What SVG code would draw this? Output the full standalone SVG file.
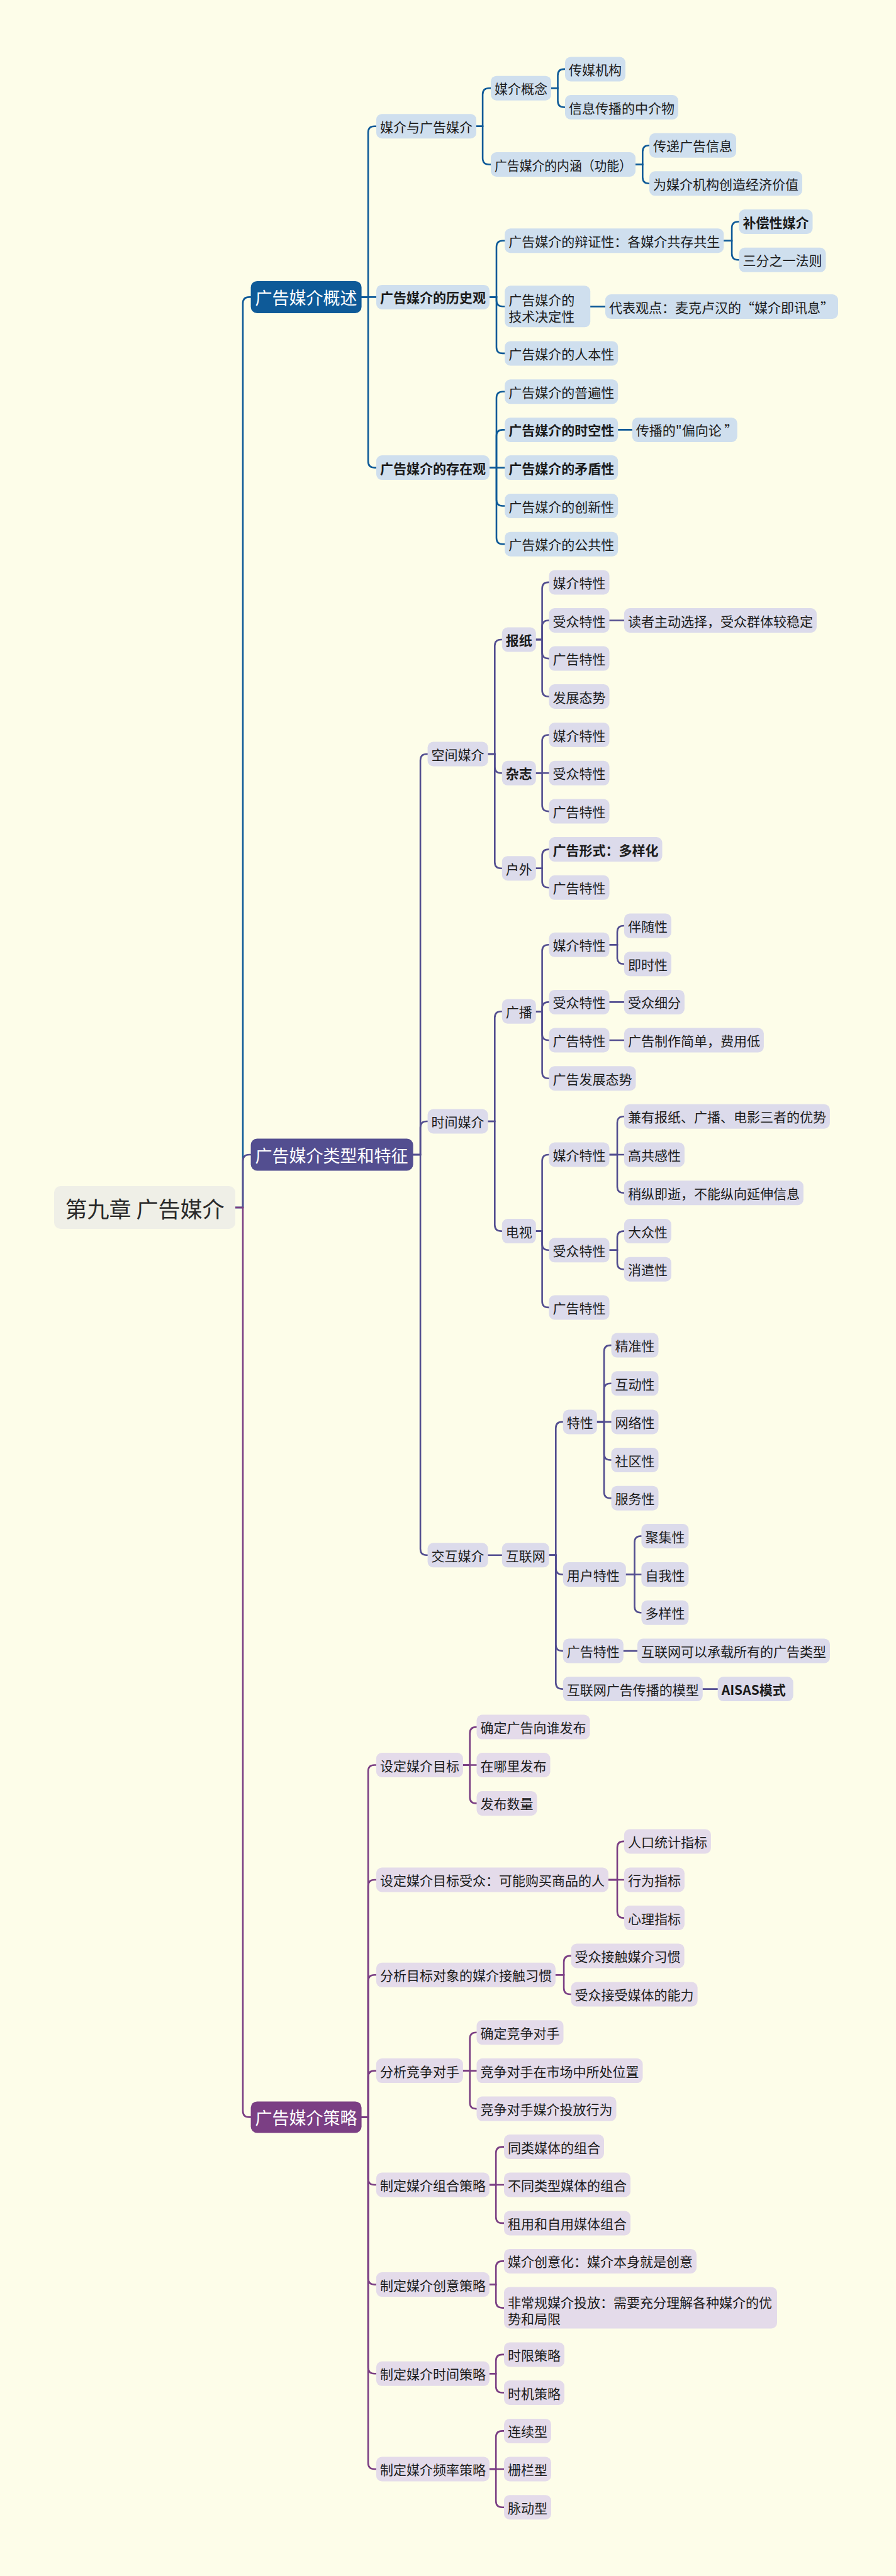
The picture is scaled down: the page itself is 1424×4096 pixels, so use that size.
<svg xmlns="http://www.w3.org/2000/svg" width="1424" height="4096" viewBox="0 0 1424 4096">
<style>
.t{font-family:"Noto Sans CJK SC","Noto Sans",sans-serif;font-size:21px;fill:#1b1b1b;dominant-baseline:central}
.bd{font-weight:bold}
.l1{font-size:27px;fill:#ffffff}
.rt{font-size:35px;fill:#2a2a2a;text-anchor:middle}
.nb{fill:#cfdfee}
.np{fill:#dcdbeb}
.nm{fill:#e4dbea}
.c{fill:none;stroke-width:2.6;stroke-linecap:round}
.cb{stroke:#0e5a98}
.cp{stroke:#534e90}
.cm{stroke:#7b3f84}
</style>
<rect x="0" y="0" width="1424" height="4096" fill="#fdfde9"/>
<g id="connectors">
<path class="c cb" d="M374,1920 H386 V482.4 Q386,472.4 396,472.4 H398.6"/>
<path class="c cp" d="M374,1920 H386 V1846 Q386,1836 396,1836 H398.6"/>
<path class="c cm" d="M374,1920 H386 V3356.4 Q386,3366.4 396,3366.4 H398.6"/>
<path class="c cb" d="M574.6,472.4 H585.1 V210.7 Q585.1,200.7 595.1,200.7 H598"/>
<path class="c cb" d="M574.6,472.4 H598"/>
<path class="c cb" d="M574.6,472.4 H585.1 V733.6 Q585.1,743.6 595.1,743.6 H598"/>
<path class="c cb" d="M757,200.7 H767.1 V150.2 Q767.1,140.2 777.1,140.2 H780"/>
<path class="c cb" d="M757,200.7 H767.1 V251.5 Q767.1,261.5 777.1,261.5 H780"/>
<path class="c cb" d="M876,140.2 H886.5 V119.9 Q886.5,109.9 896.5,109.9 H898"/>
<path class="c cb" d="M876,140.2 H886.5 V160.5 Q886.5,170.5 896.5,170.5 H898"/>
<path class="c cb" d="M1010,261.5 H1021.3 V241.2 Q1021.3,231.2 1031.3,231.2 H1032"/>
<path class="c cb" d="M1010,261.5 H1021.3 V281.8 Q1021.3,291.8 1031.3,291.8 H1032"/>
<path class="c cb" d="M778,472.4 H789 V392.7 Q789,382.7 799,382.7 H802.2"/>
<path class="c cb" d="M778,472.4 H789 V477.3 Q789,487.3 799,487.3 H802.2"/>
<path class="c cb" d="M778,472.4 H789 V551.9 Q789,561.9 799,561.9 H802.2"/>
<path class="c cb" d="M1150.2,382.7 H1163.1 V362.5 Q1163.1,352.5 1173.1,352.5 H1174.5"/>
<path class="c cb" d="M1150.2,382.7 H1163.1 V403.3 Q1163.1,413.3 1173.1,413.3 H1174.5"/>
<path class="c cb" d="M938.2,487.4 H962"/>
<path class="c cb" d="M778,743.6 H789 V632.8 Q789,622.8 799,622.8 H802.2"/>
<path class="c cb" d="M778,743.6 H789 V693.4 Q789,683.4 799,683.4 H802.2"/>
<path class="c cb" d="M778,743.6 H802.2"/>
<path class="c cb" d="M778,743.6 H789 V794.5 Q789,804.5 799,804.5 H802.2"/>
<path class="c cb" d="M778,743.6 H789 V855.2 Q789,865.2 799,865.2 H802.2"/>
<path class="c cb" d="M982.2,683.4 H1004.7"/>

<path class="c cp" d="M656.6,1836 H668.1 V1209 Q668.1,1199 678.1,1199 H679.6"/>
<path class="c cp" d="M656.6,1836 H668.1 V1793 Q668.1,1783 678.1,1783 H679.6"/>
<path class="c cp" d="M656.6,1836 H668.1 V2462.8 Q668.1,2472.8 678.1,2472.8 H679.6"/>
<path class="c cp" d="M775.6,1199 H786.3 V1027 Q786.3,1017 796.3,1017 H797.8"/>
<path class="c cp" d="M775.6,1199 H786.3 V1219.3 Q786.3,1229.3 796.3,1229.3 H797.8"/>
<path class="c cp" d="M775.6,1199 H786.3 V1370.7 Q786.3,1380.7 796.3,1380.7 H797.8"/>
<path class="c cp" d="M851.8,1017 H861.6 V935.9 Q861.6,925.9 871.6,925.9 H872.5"/>
<path class="c cp" d="M851.8,1017 H861.6 V996.5 Q861.6,986.5 871.6,986.5 H872.5"/>
<path class="c cp" d="M851.8,1017 H861.6 V1037.1 Q861.6,1047.1 871.6,1047.1 H872.5"/>
<path class="c cp" d="M851.8,1017 H861.6 V1097.5 Q861.6,1107.5 871.6,1107.5 H872.5"/>
<path class="c cp" d="M968.5,986.5 H991.9"/>
<path class="c cp" d="M851.8,1229.3 H861.6 V1178.5 Q861.6,1168.5 871.6,1168.5 H872.5"/>
<path class="c cp" d="M851.8,1229.3 H872.5"/>
<path class="c cp" d="M851.8,1229.3 H861.6 V1280.1 Q861.6,1290.1 871.6,1290.1 H872.5"/>
<path class="c cp" d="M851.8,1380.7 H861.6 V1360.6 Q861.6,1350.6 871.6,1350.6 H872.5"/>
<path class="c cp" d="M851.8,1380.7 H861.6 V1401.3 Q861.6,1411.3 871.6,1411.3 H872.5"/>
<path class="c cp" d="M775.6,1783 H786.3 V1618.2 Q786.3,1608.2 796.3,1608.2 H797.8"/>
<path class="c cp" d="M775.6,1783 H786.3 V1947.6 Q786.3,1957.6 796.3,1957.6 H797.8"/>
<path class="c cp" d="M851.8,1608.2 H861.6 V1512.3 Q861.6,1502.3 871.6,1502.3 H872.5"/>
<path class="c cp" d="M851.8,1608.2 H861.6 V1603.4 Q861.6,1593.4 871.6,1593.4 H872.5"/>
<path class="c cp" d="M851.8,1608.2 H861.6 V1644 Q861.6,1654 871.6,1654 H872.5"/>
<path class="c cp" d="M851.8,1608.2 H861.6 V1704.7 Q861.6,1714.7 871.6,1714.7 H872.5"/>
<path class="c cp" d="M968.5,1502.3 H981 V1482 Q981,1472 991,1472 H991.9"/>
<path class="c cp" d="M968.5,1502.3 H981 V1522.7 Q981,1532.7 991,1532.7 H991.9"/>
<path class="c cp" d="M968.5,1593.4 H991.9"/>
<path class="c cp" d="M968.5,1654 H991.9"/>
<path class="c cp" d="M851.8,1957.6 H861.6 V1846 Q861.6,1836 871.6,1836 H872.5"/>
<path class="c cp" d="M851.8,1957.6 H861.6 V1977.8 Q861.6,1987.8 871.6,1987.8 H872.5"/>
<path class="c cp" d="M851.8,1957.6 H861.6 V2068.9 Q861.6,2078.9 871.6,2078.9 H872.5"/>
<path class="c cp" d="M968.5,1836 H981 V1785.2 Q981,1775.2 991,1775.2 H991.9"/>
<path class="c cp" d="M968.5,1836 H991.9"/>
<path class="c cp" d="M968.5,1836 H981 V1886.7 Q981,1896.7 991,1896.7 H991.9"/>
<path class="c cp" d="M968.5,1987.8 H981 V1967.6 Q981,1957.6 991,1957.6 H991.9"/>
<path class="c cp" d="M968.5,1987.8 H981 V2008.2 Q981,2018.2 991,2018.2 H991.9"/>
<path class="c cp" d="M775.6,2472.8 H797.8"/>
<path class="c cp" d="M872.8,2472.8 H883.3 V2270.9 Q883.3,2260.9 893.3,2260.9 H894.8"/>
<path class="c cp" d="M872.8,2472.8 H883.3 V2493.5 Q883.3,2503.5 893.3,2503.5 H894.8"/>
<path class="c cp" d="M872.8,2472.8 H883.3 V2615.1 Q883.3,2625.1 893.3,2625.1 H894.8"/>
<path class="c cp" d="M872.8,2472.8 H883.3 V2675.6 Q883.3,2685.6 893.3,2685.6 H894.8"/>
<path class="c cp" d="M948.8,2260.9 H960 V2149.1 Q960,2139.1 970,2139.1 H971.5"/>
<path class="c cp" d="M948.8,2260.9 H960 V2209.8 Q960,2199.8 970,2199.8 H971.5"/>
<path class="c cp" d="M948.8,2260.9 H971.5"/>
<path class="c cp" d="M948.8,2260.9 H960 V2311.5 Q960,2321.5 970,2321.5 H971.5"/>
<path class="c cp" d="M948.8,2260.9 H960 V2372.2 Q960,2382.2 970,2382.2 H971.5"/>
<path class="c cp" d="M994.8,2503.5 H1008.5 V2452.5 Q1008.5,2442.5 1018.5,2442.5 H1019.4"/>
<path class="c cp" d="M994.8,2503.5 H1019.4"/>
<path class="c cp" d="M994.8,2503.5 H1008.5 V2554.3 Q1008.5,2564.3 1018.5,2564.3 H1019.4"/>
<path class="c cp" d="M990.8,2625.1 H1013"/>
<path class="c cp" d="M1116.8,2685.6 H1140.7"/>

<path class="c cm" d="M574.6,3366.4 H585.1 V2816.5 Q585.1,2806.5 595.1,2806.5 H597.9"/>
<path class="c cm" d="M574.6,3366.4 H585.1 V2999 Q585.1,2989 595.1,2989 H597.9"/>
<path class="c cm" d="M574.6,3366.4 H585.1 V3150.3 Q585.1,3140.3 595.1,3140.3 H597.9"/>
<path class="c cm" d="M574.6,3366.4 H585.1 V3302.6 Q585.1,3292.6 595.1,3292.6 H597.9"/>
<path class="c cm" d="M574.6,3366.4 H585.1 V3464 Q585.1,3474 595.1,3474 H597.9"/>
<path class="c cm" d="M574.6,3366.4 H585.1 V3622.6 Q585.1,3632.6 595.1,3632.6 H597.9"/>
<path class="c cm" d="M574.6,3366.4 H585.1 V3764.3 Q585.1,3774.3 595.1,3774.3 H597.9"/>
<path class="c cm" d="M574.6,3366.4 H585.1 V3916 Q585.1,3926 595.1,3926 H597.9"/>
<path class="c cm" d="M735.9,2806.5 H746.7 V2756.1 Q746.7,2746.1 756.7,2746.1 H757.5"/>
<path class="c cm" d="M735.9,2806.5 H757.5"/>
<path class="c cm" d="M735.9,2806.5 H746.7 V2857.4 Q746.7,2867.4 756.7,2867.4 H757.5"/>
<path class="c cm" d="M966.9,2989 H981 V2937.9 Q981,2927.9 991,2927.9 H991.9"/>
<path class="c cm" d="M966.9,2989 H991.9"/>
<path class="c cm" d="M966.9,2989 H981 V3039.6 Q981,3049.6 991,3049.6 H991.9"/>
<path class="c cm" d="M882.9,3140.3 H896.1 V3119.9 Q896.1,3109.9 906.1,3109.9 H907.6"/>
<path class="c cm" d="M882.9,3140.3 H896.1 V3161 Q896.1,3171 906.1,3171 H907.6"/>
<path class="c cm" d="M735.9,3292.6 H746.7 V3241.7 Q746.7,3231.7 756.7,3231.7 H757.5"/>
<path class="c cm" d="M735.9,3292.6 H757.5"/>
<path class="c cm" d="M735.9,3292.6 H746.7 V3343.1 Q746.7,3353.1 756.7,3353.1 H757.5"/>
<path class="c cm" d="M777.9,3474 H788.2 V3423.6 Q788.2,3413.6 798.2,3413.6 H801"/>
<path class="c cm" d="M777.9,3474 H801"/>
<path class="c cm" d="M777.9,3474 H788.2 V3524.9 Q788.2,3534.9 798.2,3534.9 H801"/>
<path class="c cm" d="M777.9,3632.6 H788.2 V3605.4 Q788.2,3595.4 798.2,3595.4 H801"/>
<path class="c cm" d="M777.9,3632.6 H788.2 V3659.6 Q788.2,3669.6 798.2,3669.6 H801"/>
<path class="c cm" d="M777.9,3774.3 H788.2 V3753.9 Q788.2,3743.9 798.2,3743.9 H801"/>
<path class="c cm" d="M777.9,3774.3 H788.2 V3794.5 Q788.2,3804.5 798.2,3804.5 H801"/>
<path class="c cm" d="M777.9,3926 H788.2 V3875.4 Q788.2,3865.4 798.2,3865.4 H801"/>
<path class="c cm" d="M777.9,3926 H801"/>
<path class="c cm" d="M777.9,3926 H788.2 V3976.7 Q788.2,3986.7 798.2,3986.7 H801"/>
</g>

<g id="root"><rect x="86" y="1886" width="288" height="68" rx="10" fill="#efefe7"/><text class="t rt" x="230" y="1920">第九章 广告媒介</text></g>

<g id="n-gs"><rect x="398.6" y="446.9" width="176" height="51" rx="10" fill="#0e5a98"/><text class="t l1" x="405.6" y="472.4">广告媒介概述</text></g>
<g id="n-lx"><rect x="398.6" y="1810.5" width="258" height="51" rx="10" fill="#534e90"/><text class="t l1" x="405.6" y="1836">广告媒介类型和特征</text></g>
<g id="n-cl"><rect x="398.6" y="3341.4" width="176" height="50" rx="10" fill="#7b3f84"/><text class="t l1" x="405.6" y="3366.4">广告媒介策略</text></g>

<g id="n-mj"><rect class="nb" x="598" y="181.2" width="159" height="39" rx="9"/><text class="t" x="604" y="200.7">媒介与广告媒介</text></g>
<g id="n-lsg"><rect class="nb" x="598" y="452.9" width="180" height="39" rx="9"/><text class="t bd" x="604" y="472.4">广告媒介的历史观</text></g>
<g id="n-czg"><rect class="nb" x="598" y="724.1" width="180" height="39" rx="9"/><text class="t bd" x="604" y="743.6">广告媒介的存在观</text></g>
<g id="n-mjgn"><rect class="nb" x="780" y="120.7" width="96" height="39" rx="9"/><text class="t" x="786" y="140.2">媒介概念</text></g>
<g id="n-nh"><rect class="nb" x="780" y="242" width="230" height="39" rx="9"/><text class="t" x="786" y="261.5" textLength="218" lengthAdjust="spacingAndGlyphs">广告媒介的内涵（功能）</text></g>
<g id="n-cmjg"><rect class="nb" x="898" y="90.4" width="96" height="39" rx="9"/><text class="t" x="904" y="109.9">传媒机构</text></g>
<g id="n-xxcb"><rect class="nb" x="898" y="151" width="180" height="39" rx="9"/><text class="t" x="904" y="170.5">信息传播的中介物</text></g>
<g id="n-cdgg"><rect class="nb" x="1032" y="211.7" width="138" height="39" rx="9"/><text class="t" x="1038" y="231.2">传递广告信息</text></g>
<g id="n-wmj"><rect class="nb" x="1032" y="272.3" width="243" height="39" rx="9"/><text class="t" x="1038" y="291.8">为媒介机构创造经济价值</text></g>
<g id="n-bzx"><rect class="nb" x="802.2" y="363.2" width="348" height="39" rx="9"/><text class="t" x="808.2" y="382.7">广告媒介的辩证性：各媒介共存共生</text></g>
<g id="n-jsjd"><rect class="nb" x="802.2" y="454.3" width="136" height="66" rx="9"/><text class="t" x="808.2" y="475.6">广告媒介的</text><text class="t" x="808.2" y="502.2">技术决定性</text></g>
<g id="n-rbx"><rect class="nb" x="802.2" y="542.4" width="180" height="39" rx="9"/><text class="t" x="808.2" y="561.9">广告媒介的人本性</text></g>
<g id="n-bcx"><rect class="nb" x="1174.5" y="333" width="117" height="39" rx="9"/><text class="t bd" x="1180.5" y="352.5">补偿性媒介</text></g>
<g id="n-sfzy"><rect class="nb" x="1174.5" y="393.8" width="138" height="39" rx="9"/><text class="t" x="1180.5" y="413.3">三分之一法则</text></g>
<g id="n-dbgd"><rect class="nb" x="962" y="468" width="370" height="39" rx="9"/><text class="t" x="968" y="487.5">代表观点：麦克卢汉的“媒介即讯息”</text></g>
<g id="n-pbx"><rect class="nb" x="802.2" y="603.3" width="180" height="39" rx="9"/><text class="t" x="808.2" y="622.8">广告媒介的普遍性</text></g>
<g id="n-skx"><rect class="nb" x="802.2" y="663.9" width="180" height="39" rx="9"/><text class="t bd" x="808.2" y="683.4">广告媒介的时空性</text></g>
<g id="n-mdx"><rect class="nb" x="802.2" y="724.1" width="180" height="39" rx="9"/><text class="t bd" x="808.2" y="743.6">广告媒介的矛盾性</text></g>
<g id="n-cxx"><rect class="nb" x="802.2" y="785" width="180" height="39" rx="9"/><text class="t" x="808.2" y="804.5">广告媒介的创新性</text></g>
<g id="n-ggx"><rect class="nb" x="802.2" y="845.7" width="180" height="39" rx="9"/><text class="t" x="808.2" y="865.2">广告媒介的公共性</text></g>
<g id="n-pxl"><rect class="nb" x="1004.7" y="663.9" width="167" height="39" rx="9"/><text class="t" x="1010.7" y="683.4">传播的"偏向论 ”</text></g>

<g id="n-kj"><rect class="np" x="679.6" y="1179.5" width="96" height="39" rx="9"/><text class="t" x="685.6" y="1199">空间媒介</text></g>
<g id="n-sj"><rect class="np" x="679.6" y="1763.5" width="96" height="39" rx="9"/><text class="t" x="685.6" y="1783">时间媒介</text></g>
<g id="n-jh"><rect class="np" x="679.6" y="2453.3" width="96" height="39" rx="9"/><text class="t" x="685.6" y="2472.8">交互媒介</text></g>
<g id="n-bz"><rect class="np" x="797.8" y="997.5" width="54" height="39" rx="9"/><text class="t bd" x="803.8" y="1017">报纸</text></g>
<g id="n-zz"><rect class="np" x="797.8" y="1209.8" width="54" height="39" rx="9"/><text class="t bd" x="803.8" y="1229.3">杂志</text></g>
<g id="n-hw"><rect class="np" x="797.8" y="1361.2" width="54" height="39" rx="9"/><text class="t" x="803.8" y="1380.7">户外</text></g>
<g id="n-bz1"><rect class="np" x="872.5" y="906.4" width="96" height="39" rx="9"/><text class="t" x="878.5" y="925.9">媒介特性</text></g>
<g id="n-bz2"><rect class="np" x="872.5" y="967" width="96" height="39" rx="9"/><text class="t" x="878.5" y="986.5">受众特性</text></g>
<g id="n-bz3"><rect class="np" x="872.5" y="1027.6" width="96" height="39" rx="9"/><text class="t" x="878.5" y="1047.1">广告特性</text></g>
<g id="n-bz4"><rect class="np" x="872.5" y="1088" width="96" height="39" rx="9"/><text class="t" x="878.5" y="1107.5">发展态势</text></g>
<g id="n-dz"><rect class="np" x="991.9" y="967" width="306" height="39" rx="9"/><text class="t" x="997.9" y="986.5">读者主动选择，受众群体较稳定</text></g>
<g id="n-zz1"><rect class="np" x="872.5" y="1149" width="96" height="39" rx="9"/><text class="t" x="878.5" y="1168.5">媒介特性</text></g>
<g id="n-zz2"><rect class="np" x="872.5" y="1209.8" width="96" height="39" rx="9"/><text class="t" x="878.5" y="1229.3">受众特性</text></g>
<g id="n-zz3"><rect class="np" x="872.5" y="1270.6" width="96" height="39" rx="9"/><text class="t" x="878.5" y="1290.1">广告特性</text></g>
<g id="n-hw1"><rect class="np" x="872.5" y="1331.1" width="180" height="39" rx="9"/><text class="t bd" x="878.5" y="1350.6">广告形式：多样化</text></g>
<g id="n-hw2"><rect class="np" x="872.5" y="1391.8" width="96" height="39" rx="9"/><text class="t" x="878.5" y="1411.3">广告特性</text></g>
<g id="n-gb"><rect class="np" x="797.8" y="1588.7" width="54" height="39" rx="9"/><text class="t" x="803.8" y="1608.2">广播</text></g>
<g id="n-ds"><rect class="np" x="797.8" y="1938.1" width="54" height="39" rx="9"/><text class="t" x="803.8" y="1957.6">电视</text></g>
<g id="n-gb1"><rect class="np" x="872.5" y="1482.8" width="96" height="39" rx="9"/><text class="t" x="878.5" y="1502.3">媒介特性</text></g>
<g id="n-gb2"><rect class="np" x="872.5" y="1573.9" width="96" height="39" rx="9"/><text class="t" x="878.5" y="1593.4">受众特性</text></g>
<g id="n-gb3"><rect class="np" x="872.5" y="1634.5" width="96" height="39" rx="9"/><text class="t" x="878.5" y="1654">广告特性</text></g>
<g id="n-gb4"><rect class="np" x="872.5" y="1695.2" width="138" height="39" rx="9"/><text class="t" x="878.5" y="1714.7">广告发展态势</text></g>
<g id="n-bsx"><rect class="np" x="991.9" y="1452.5" width="75" height="39" rx="9"/><text class="t" x="997.9" y="1472">伴随性</text></g>
<g id="n-jsx"><rect class="np" x="991.9" y="1513.2" width="75" height="39" rx="9"/><text class="t" x="997.9" y="1532.7">即时性</text></g>
<g id="n-szxf"><rect class="np" x="991.9" y="1573.9" width="96" height="39" rx="9"/><text class="t" x="997.9" y="1593.4">受众细分</text></g>
<g id="n-ggzz"><rect class="np" x="991.9" y="1634.5" width="222" height="39" rx="9"/><text class="t" x="997.9" y="1654">广告制作简单，费用低</text></g>
<g id="n-ds1"><rect class="np" x="872.5" y="1816.5" width="96" height="39" rx="9"/><text class="t" x="878.5" y="1836">媒介特性</text></g>
<g id="n-ds2"><rect class="np" x="872.5" y="1968.3" width="96" height="39" rx="9"/><text class="t" x="878.5" y="1987.8">受众特性</text></g>
<g id="n-ds3"><rect class="np" x="872.5" y="2059.4" width="96" height="39" rx="9"/><text class="t" x="878.5" y="2078.9">广告特性</text></g>
<g id="n-jy"><rect class="np" x="991.9" y="1755.7" width="327" height="39" rx="9"/><text class="t" x="997.9" y="1775.2">兼有报纸、广播、电影三者的优势</text></g>
<g id="n-ggg"><rect class="np" x="991.9" y="1816.5" width="96" height="39" rx="9"/><text class="t" x="997.9" y="1836">高共感性</text></g>
<g id="n-szjs"><rect class="np" x="991.9" y="1877.2" width="285" height="39" rx="9"/><text class="t" x="997.9" y="1896.7">稍纵即逝，不能纵向延伸信息</text></g>
<g id="n-dzx"><rect class="np" x="991.9" y="1938.1" width="75" height="39" rx="9"/><text class="t" x="997.9" y="1957.6">大众性</text></g>
<g id="n-xqx"><rect class="np" x="991.9" y="1998.7" width="75" height="39" rx="9"/><text class="t" x="997.9" y="2018.2">消遣性</text></g>
<g id="n-hlw"><rect class="np" x="797.8" y="2453.3" width="75" height="39" rx="9"/><text class="t" x="803.8" y="2472.8">互联网</text></g>
<g id="n-tx"><rect class="np" x="894.8" y="2241.4" width="54" height="39" rx="9"/><text class="t" x="900.8" y="2260.9">特性</text></g>
<g id="n-jzx"><rect class="np" x="971.5" y="2119.6" width="75" height="39" rx="9"/><text class="t" x="977.5" y="2139.1">精准性</text></g>
<g id="n-hdx"><rect class="np" x="971.5" y="2180.3" width="75" height="39" rx="9"/><text class="t" x="977.5" y="2199.8">互动性</text></g>
<g id="n-wlx"><rect class="np" x="971.5" y="2241.4" width="75" height="39" rx="9"/><text class="t" x="977.5" y="2260.9">网络性</text></g>
<g id="n-sqx"><rect class="np" x="971.5" y="2302" width="75" height="39" rx="9"/><text class="t" x="977.5" y="2321.5">社区性</text></g>
<g id="n-fwx"><rect class="np" x="971.5" y="2362.7" width="75" height="39" rx="9"/><text class="t" x="977.5" y="2382.2">服务性</text></g>
<g id="n-yh"><rect class="np" x="894.8" y="2484" width="100" height="39" rx="9"/><text class="t" x="900.8" y="2503.5">用户特性</text></g>
<g id="n-jjx"><rect class="np" x="1019.4" y="2423" width="75" height="39" rx="9"/><text class="t" x="1025.4" y="2442.5">聚集性</text></g>
<g id="n-zwx"><rect class="np" x="1019.4" y="2484" width="75" height="39" rx="9"/><text class="t" x="1025.4" y="2503.5">自我性</text></g>
<g id="n-dyx"><rect class="np" x="1019.4" y="2544.8" width="75" height="39" rx="9"/><text class="t" x="1025.4" y="2564.3">多样性</text></g>
<g id="n-hlgg"><rect class="np" x="894.8" y="2605.6" width="96" height="39" rx="9"/><text class="t" x="900.8" y="2625.1">广告特性</text></g>
<g id="n-hlcz"><rect class="np" x="1013" y="2605.6" width="306" height="39" rx="9"/><text class="t" x="1019" y="2625.1">互联网可以承载所有的广告类型</text></g>
<g id="n-mx"><rect class="np" x="894.8" y="2666.1" width="222" height="39" rx="9"/><text class="t" x="900.8" y="2685.6">互联网广告传播的模型</text></g>
<g id="n-aisas"><rect class="np" x="1140.7" y="2666.1" width="120" height="39" rx="9"/><text class="t bd" x="1146.7" y="2685.6">AISAS模式</text></g>

<g id="n-sdmb"><rect class="nm" x="597.9" y="2787" width="138" height="39" rx="9"/><text class="t" x="603.9" y="2806.5">设定媒介目标</text></g>
<g id="n-sdsz"><rect class="nm" x="597.9" y="2969.5" width="369" height="39" rx="9"/><text class="t" x="603.9" y="2989">设定媒介目标受众：可能购买商品的人</text></g>
<g id="n-fxjc"><rect class="nm" x="597.9" y="3120.8" width="285" height="39" rx="9"/><text class="t" x="603.9" y="3140.3">分析目标对象的媒介接触习惯</text></g>
<g id="n-fxjz"><rect class="nm" x="597.9" y="3273.1" width="138" height="39" rx="9"/><text class="t" x="603.9" y="3292.6">分析竞争对手</text></g>
<g id="n-zhcl"><rect class="nm" x="597.9" y="3454.5" width="180" height="39" rx="9"/><text class="t" x="603.9" y="3474">制定媒介组合策略</text></g>
<g id="n-cycl"><rect class="nm" x="597.9" y="3613.1" width="180" height="39" rx="9"/><text class="t" x="603.9" y="3632.6">制定媒介创意策略</text></g>
<g id="n-sjcl"><rect class="nm" x="597.9" y="3754.8" width="180" height="39" rx="9"/><text class="t" x="603.9" y="3774.3">制定媒介时间策略</text></g>
<g id="n-plcl"><rect class="nm" x="597.9" y="3906.5" width="180" height="39" rx="9"/><text class="t" x="603.9" y="3926">制定媒介频率策略</text></g>
<g id="n-qdgg"><rect class="nm" x="757.5" y="2726.6" width="180" height="39" rx="9"/><text class="t" x="763.5" y="2746.1">确定广告向谁发布</text></g>
<g id="n-znl"><rect class="nm" x="757.5" y="2787" width="117" height="39" rx="9"/><text class="t" x="763.5" y="2806.5">在哪里发布</text></g>
<g id="n-fbsl"><rect class="nm" x="757.5" y="2847.9" width="96" height="39" rx="9"/><text class="t" x="763.5" y="2867.4">发布数量</text></g>
<g id="n-rktj"><rect class="nm" x="991.9" y="2908.4" width="138" height="39" rx="9"/><text class="t" x="997.9" y="2927.9">人口统计指标</text></g>
<g id="n-xwzb"><rect class="nm" x="991.9" y="2969.5" width="96" height="39" rx="9"/><text class="t" x="997.9" y="2989">行为指标</text></g>
<g id="n-xlzb"><rect class="nm" x="991.9" y="3030.1" width="96" height="39" rx="9"/><text class="t" x="997.9" y="3049.6">心理指标</text></g>
<g id="n-szjc"><rect class="nm" x="907.6" y="3090.4" width="180" height="39" rx="9"/><text class="t" x="913.6" y="3109.9">受众接触媒介习惯</text></g>
<g id="n-szjs2"><rect class="nm" x="907.6" y="3151.5" width="201" height="39" rx="9"/><text class="t" x="913.6" y="3171">受众接受媒体的能力</text></g>
<g id="n-qdjz"><rect class="nm" x="757.5" y="3212.2" width="138" height="39" rx="9"/><text class="t" x="763.5" y="3231.7">确定竞争对手</text></g>
<g id="n-jzwz"><rect class="nm" x="757.5" y="3273.1" width="264" height="39" rx="9"/><text class="t" x="763.5" y="3292.6">竞争对手在市场中所处位置</text></g>
<g id="n-jztf"><rect class="nm" x="757.5" y="3333.6" width="222" height="39" rx="9"/><text class="t" x="763.5" y="3353.1">竞争对手媒介投放行为</text></g>
<g id="n-tlzh"><rect class="nm" x="801" y="3394.1" width="159" height="39" rx="9"/><text class="t" x="807" y="3413.6">同类媒体的组合</text></g>
<g id="n-btzh"><rect class="nm" x="801" y="3454.5" width="201" height="39" rx="9"/><text class="t" x="807" y="3474">不同类型媒体的组合</text></g>
<g id="n-zyzh"><rect class="nm" x="801" y="3515.4" width="201" height="39" rx="9"/><text class="t" x="807" y="3534.9">租用和自用媒体组合</text></g>
<g id="n-mjcy"><rect class="nm" x="801" y="3575.9" width="306" height="39" rx="9"/><text class="t" x="807" y="3595.4">媒介创意化：媒介本身就是创意</text></g>
<g id="n-fcg"><rect class="nm" x="801" y="3636.4" width="434" height="66" rx="9"/><text class="t" x="807" y="3660.2">非常规媒介投放：需要充分理解各种媒介的优</text><text class="t" x="807" y="3685.8">势和局限</text></g>
<g id="n-sxcl"><rect class="nm" x="801" y="3724.4" width="96" height="39" rx="9"/><text class="t" x="807" y="3743.9">时限策略</text></g>
<g id="n-sjcl2"><rect class="nm" x="801" y="3785" width="96" height="39" rx="9"/><text class="t" x="807" y="3804.5">时机策略</text></g>
<g id="n-lxx"><rect class="nm" x="801" y="3845.9" width="75" height="39" rx="9"/><text class="t" x="807" y="3865.4">连续型</text></g>
<g id="n-slx"><rect class="nm" x="801" y="3906.5" width="75" height="39" rx="9"/><text class="t" x="807" y="3926">栅栏型</text></g>
<g id="n-mdx2"><rect class="nm" x="801" y="3967.2" width="75" height="39" rx="9"/><text class="t" x="807" y="3986.7">脉动型</text></g>
</svg>
